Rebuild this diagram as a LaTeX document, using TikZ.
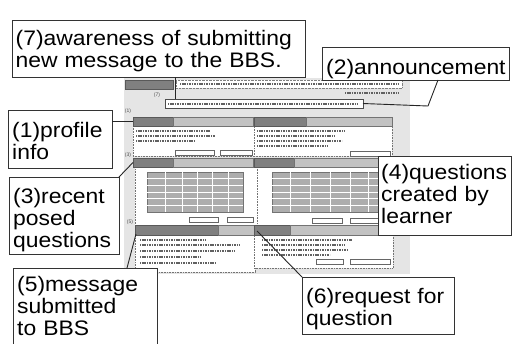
\documentclass[tikz,border=0pt]{standalone}
\usepackage{fontspec}
\newfontfamily\calloutfont[FakeStretch=1.09]{Liberation Sans}
\newfontfamily\markfont{Liberation Sans}
\usetikzlibrary{calc}
\begin{document}
\begin{tikzpicture}[x=1pt,y=-1pt,
  callbox/.style={draw=black!80, line width=0.9pt, fill=white, anchor=north west,
    inner sep=0pt, outer sep=0pt},
  calltext/.style={anchor=base west, inner sep=0pt, align=left, text width=150pt,
    font=\calloutfont\fontsize{21}{22}\selectfont},
  leader/.style={draw=black!85, line width=0.9pt},
  blk/.style={anchor=north west, inner sep=0pt, outer sep=0pt},
  hdrdark/.style={blk, fill=black!50, draw=black!65, line width=0.5pt, minimum height=9pt},
  hdrlight/.style={blk, fill=black!24, draw=black!55, line width=0.5pt, minimum height=9pt},
  panel/.style={blk, fill=white, draw=black!55, densely dotted, line width=0.6pt},
  txt/.style={draw=black!62, line width=2pt, dash pattern=on 1.1pt off 0.6pt},
  btn/.style={draw=black!60, fill=white, line width=0.5pt},
  tbl/.style={fill=black!32, draw=black!55, line width=0.5pt},
  secmark/.style={font=\markfont\fontsize{5}{5}\selectfont, text=black!70, inner sep=0pt}
]
\useasboundingbox (0,0) rectangle (513,343);

% halftone page background of the screen
\fill[black!10] (124,78) rectangle (410,274);

% top navigation row
\node[hdrdark, minimum width=48pt] (nav) at (125,80) {};
\node[blk, fill=white, draw=black!50, densely dotted, minimum width=226pt, minimum height=8pt] (navbar) at (176,80) {};
\draw[txt] (180,84) -- (398,84);
\draw[txt, line width=1.6pt] (345,93) -- (398,93);

% announcement bar
\node[blk, fill=white, draw=black!70, line width=0.6pt, minimum width=198pt, minimum height=9pt] (ann) at (165,99) {};
\draw[txt] (168,103.5) -- (358,103.5);

% small section markers
\node[secmark] (m7) at (157,95) {(7)};
\node[secmark] (m1) at (128,111) {(1)};
\node[secmark] (m3) at (128,155) {(3)};
\node[secmark] (m5) at (130,222) {(5)};

% panel 1 (profile)
\node[panel, minimum width=121pt, minimum height=30pt] (p1) at (133,126) {};
\node[hdrdark, minimum width=40pt] (h1d) at (133,117) {};
\node[hdrlight, minimum width=80pt] (h1l) at (173,117) {};
\draw[txt] (136,131) -- (210,131);
\draw[txt] (136,136) -- (215,136);
\draw[txt] (136,141) -- (195,141);
\draw[btn] (175,150) rectangle (214,155);
\draw[btn] (220,150) rectangle (252,155);

% panel 2 (announcements)
\node[panel, minimum width=138pt, minimum height=30pt] (p2) at (254,126) {};
\node[hdrdark, minimum width=52pt] (h2d) at (254,117) {};
\node[hdrlight, minimum width=86pt] (h2l) at (306,117) {};
\draw[txt] (257,131) -- (345,131);
\draw[txt] (257,136) -- (335,136);
\draw[txt] (257,141) -- (342,141);
\draw[txt] (257,146) -- (328,146);
\draw[btn] (350,151) rectangle (390,156);

% panel 3 (recent questions)
\node[panel, minimum width=122pt, minimum height=58pt] (p3) at (135,167) {};
\node[hdrdark, minimum width=40pt] (h3d) at (133,158) {};
\node[hdrlight, minimum width=80pt] (h3l) at (173,158) {};
\draw[tbl] (147,172) rectangle (243,212);
\foreach \y in {178,185,192,198,205} \draw[white, line width=0.6pt] (147,\y) -- (243,\y);
\foreach \x in {165,182,197,212,228} \draw[white, line width=0.6pt] (\x,172) -- (\x,212);
\draw[btn] (189,217) rectangle (218,222);
\draw[btn] (227,217) rectangle (253,222);

% panel 4 (learner's questions)
\node[panel, minimum width=135pt, minimum height=58pt] (p4) at (257,167) {};
\node[hdrdark, minimum width=40pt] (h4d) at (254,158) {};
\node[hdrlight, minimum width=98pt] (h4l) at (294,158) {};
\draw[tbl] (272,172) rectangle (385,212);
\foreach \y in {178,185,192,198,205} \draw[white, line width=0.6pt] (272,\y) -- (385,\y);
\foreach \x in {290,310,330,350,368} \draw[white, line width=0.6pt] (\x,172) -- (\x,212);
\draw[btn] (312,218) rectangle (342,223);
\draw[btn] (350,218) rectangle (378,223);

% panel 5 (bulletin board)
\node[panel, minimum width=120pt, minimum height=37pt] (p5) at (135,235) {};
\node[hdrdark, minimum width=83pt, minimum height=10pt] (h5d) at (135,225) {};
\node[hdrlight, minimum width=37pt, minimum height=10pt] (h5l) at (218,225) {};
\draw[txt] (140,240) -- (205,240);
\draw[txt] (140,245) -- (240,245);
\draw[txt] (140,251) -- (235,251);
\draw[txt] (140,257) -- (200,257);
\draw[txt] (140,263) -- (215,263);

% panel 6 (question requests)
\node[panel, minimum width=139pt, minimum height=33pt] (p6) at (254,235) {};
\node[hdrdark, minimum width=36pt, minimum height=10pt] (h6d) at (254,225) {};
\node[hdrlight, minimum width=102pt, minimum height=10pt] (h6l) at (290,225) {};
\draw[txt] (262,240) -- (352,240);
\draw[txt] (262,245) -- (345,245);
\draw[txt] (262,250) -- (348,250);
\draw[txt] (262,255) -- (330,255);
\draw[btn] (316,259) rectangle (343,264);
\draw[btn] (350,259) rectangle (390,264);

% leader lines (drawn under the callout boxes)
\coordinate (k7) at (175,99);
\coordinate (k2) at (438,80);
\coordinate (k2b) at (428,106);
\coordinate (k6) at (257,231);

% callout boxes
\node[callbox, minimum width=293pt, minimum height=57pt] (c7) at (12,20) {};
\node[callbox, minimum width=187pt, minimum height=33pt] (c2) at (322,47) {};
\node[callbox, minimum width=104pt, minimum height=58pt] (c1) at (8,110) {};
\node[callbox, minimum width=110pt, minimum height=77pt] (c3) at (9,177) {};
\node[callbox, minimum width=133pt, minimum height=79pt] (c4) at (378,156) {};
\node[callbox, minimum width=144pt, minimum height=82pt] (c5) at (13,268) {};
\node[callbox, minimum width=152pt, minimum height=57pt] (c6) at (302,277) {};

% callout texts
\node[calltext, text width=290pt] (t7) at ($(c7.north west)+(3.5,25)$) {(7)awareness of submitting\\new message to the BBS.};
\node[calltext] (t2) at ($(c2.north west)+(4,27)$) {(2)announcement};
\node[calltext] (t1) at ($(c1.north west)+(4,27)$) {(1)profile\\info};
\node[calltext] (t3) at ($(c3.north west)+(4,26)$) {(3)recent\\posed\\questions};
\node[calltext] (t4) at ($(c4.north west)+(3,23)$) {(4)questions\\created by\\learner};
\node[calltext] (t5) at ($(c5.north west)+(4,23)$) {(5)message\\submitted\\to BBS};
\node[calltext] (t6) at ($(c6.north west)+(4,26)$) {(6)request for\\question};

% leaders from the callouts to the screen parts
\draw[leader] (c7.south -| k7) -- (k7);
\draw[leader] (k2) -- (k2b) -- (ann.east);
\draw[leader] (c1.east |- h1d.west) -- (h1d.west);
\draw[leader] (c3.north east) -- (h3d.west);
\draw[leader] ($(c5.north west)+(114,0)$) -- ($(h5d.south west)+(1,-1)$);
\draw[leader] (k6) -- (c6.north west);
\end{tikzpicture}
\end{document}
